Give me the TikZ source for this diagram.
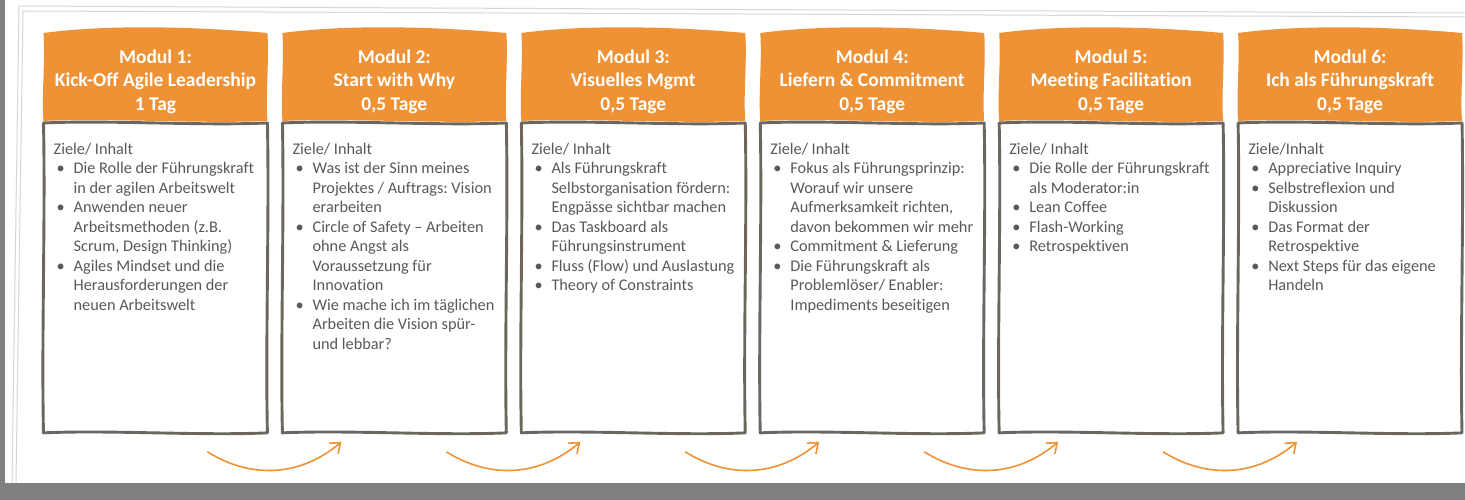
\documentclass[tikz,border=0pt]{standalone}
\usepackage{fontspec}
\setmainfont{Carlito}[Ligatures={NoCommon}]
\frenchspacing
\usetikzlibrary{positioning,calc,arrows.meta}

\definecolor{modorange}{HTML}{EF9235}
\definecolor{rahmengrau}{HTML}{6C6661}
\definecolor{textgrau}{HTML}{595959}
\definecolor{randgrau}{HTML}{808080}
\definecolor{blattgrau}{HTML}{DAD7D2}

\pgfdeclarelayer{background}
\pgfdeclarelayer{blatt}
\pgfsetlayers{blatt,background,main}

\newcommand{\bul}{\makebox[20pt][l]{\hspace{3pt}\textbullet}}
\newcommand{\ein}{\hspace*{20pt}}
% handgezeichneter Rahmen um einen Knoten: #1 Stil, #2 Knoten, #3/#4 Welle oben
\newcommand{\wellen}[4]{%
  \begin{pgfonlayer}{background}
  \path[#1] (#2.north west)
    .. controls ($(#2.north west)!.3!(#2.north east)+(0,#3)$) and ($(#2.north west)!.7!(#2.north east)+(0,#4)$) .. (#2.north east)
    .. controls ($(#2.north east)!.3!(#2.south east)+(2,0)$) and ($(#2.north east)!.7!(#2.south east)+(-2,0)$) .. (#2.south east)
    .. controls ($(#2.south east)!.3!(#2.south west)+(0,3)$) and ($(#2.south east)!.7!(#2.south west)+(0,-3)$) .. (#2.south west)
    .. controls ($(#2.south west)!.3!(#2.north west)+(-2,0)$) and ($(#2.south west)!.7!(#2.north west)+(2,0)$) .. (#2.north west) -- cycle;
  \end{pgfonlayer}}

\tikzset{
  kopf/.style={minimum width=224pt, minimum height=88pt, inner sep=0pt, outer sep=0pt},
  kopffarbe/.style={fill=modorange},
  titel/.style={text=white, font=\fontsize{19.5}{23.5}\selectfont\bfseries, align=center, inner sep=0pt},
  inhalt/.style={minimum width=224pt, minimum height=310pt, inner sep=0pt, outer sep=0pt},
  inhaltrand/.style={draw=rahmengrau, line width=2.9pt, fill=white, line join=round},
  ziel/.style={text=textgrau, font=\fontsize{16.3}{19.5}\selectfont, align=left, inner sep=0pt},
  pfeil/.style={draw=modorange, line width=1.6pt, -{Straight Barb[length=9pt, width=14pt]}},
}

\begin{document}
\begin{tikzpicture}[x=1pt, y=-1pt]
% Hintergrund und Blatt
\begin{pgfonlayer}{blatt}
\fill[white] (0,0) rectangle (1465,500);
\fill[randgrau] (0,0) rectangle (5,500);
\fill[randgrau] (0,483) rectangle (1465,500);
\draw[blattgrau, line width=1pt] (1465,13) -- (19,6) -- (12,483);
\draw[blattgrau, line width=1pt] (1465,17) -- (23,11) -- (16,483);
\end{pgfonlayer}
\useasboundingbox (0,0) rectangle (1465,500);

% Modulkoepfe
\node[kopf] (kopf1) at (155.5,77) {};
\node[kopf, right=15pt of kopf1] (kopf2) {};
\node[kopf, right=15pt of kopf2] (kopf3) {};
\node[kopf, right=15pt of kopf3] (kopf4) {};
\node[kopf, right=15pt of kopf4] (kopf5) {};
\node[kopf, right=15pt of kopf5] (kopf6) {};
\node[titel] (titel1) at ([yshift=-4.5pt]kopf1.center) {Modul 1:\\Kick-Off Agile Leadership\\1 Tag};
\node[titel] (titel2) at ([yshift=-4.5pt]kopf2.center) {Modul 2:\\Start with Why\\0,5 Tage};
\node[titel] (titel3) at ([yshift=-4.5pt]kopf3.center) {Modul 3:\\Visuelles Mgmt\\0,5 Tage};
\node[titel] (titel4) at ([yshift=-4.5pt]kopf4.center) {Modul 4:\\Liefern \& Commitment\\0,5 Tage};
\node[titel] (titel5) at ([yshift=-4.5pt]kopf5.center) {Modul 5:\\Meeting Facilitation\\0,5 Tage};
\node[titel] (titel6) at ([yshift=-4.5pt]kopf6.center) {Modul 6:\\Ich als Führungskraft\\0,5 Tage};

% Inhaltskaesten
\node[inhalt, below=2pt of kopf1] (box1) {};
\node[inhalt, below=2pt of kopf2] (box2) {};
\node[inhalt, below=2pt of kopf3] (box3) {};
\node[inhalt, below=2pt of kopf4] (box4) {};
\node[inhalt, below=2pt of kopf5] (box5) {};
\node[inhalt, below=2pt of kopf6] (box6) {};

\wellen{kopffarbe}{kopf1}{-9}{-6}
\wellen{kopffarbe}{kopf2}{-9}{-6}
\wellen{kopffarbe}{kopf3}{-9}{-6}
\wellen{kopffarbe}{kopf4}{-9}{-6}
\wellen{kopffarbe}{kopf5}{-9}{-6}
\wellen{kopffarbe}{kopf6}{-9}{-6}
\wellen{inhaltrand}{box1}{-3}{3}
\wellen{inhaltrand}{box2}{-3}{3}
\wellen{inhaltrand}{box3}{-3}{3}
\wellen{inhaltrand}{box4}{-3}{3}
\wellen{inhaltrand}{box5}{-3}{3}
\wellen{inhaltrand}{box6}{-3}{3}

% Ziele / Inhalte
\node[ziel, below right=20pt and 10pt of box1.north west] (text1) {Ziele/ Inhalt\\
  \bul Die Rolle der Führungskraft\\ \ein in der agilen Arbeitswelt\\
  \bul Anwenden neuer\\ \ein Arbeitsmethoden (z.B.\\ \ein Scrum, Design Thinking)\\
  \bul Agiles Mindset und die\\ \ein Herausforderungen der\\ \ein neuen Arbeitswelt};
\node[ziel, below right=20pt and 10pt of box2.north west] (text2) {Ziele/ Inhalt\\
  \bul Was ist der Sinn meines\\ \ein Projektes / Auftrags: Vision\\ \ein erarbeiten\\
  \bul Circle of Safety -- Arbeiten\\ \ein ohne Angst als\\ \ein Voraussetzung für\\ \ein Innovation\\
  \bul Wie mache ich im täglichen\\ \ein Arbeiten die Vision spür-\\ \ein und lebbar?};
\node[ziel, below right=20pt and 10pt of box3.north west] (text3) {Ziele/ Inhalt\\
  \bul Als Führungskraft\\ \ein Selbstorganisation fördern:\\ \ein Engpässe sichtbar machen\\
  \bul Das Taskboard als\\ \ein Führungsinstrument\\
  \bul Fluss (Flow) und Auslastung\\
  \bul Theory of Constraints};
\node[ziel, below right=20pt and 10pt of box4.north west] (text4) {Ziele/ Inhalt\\
  \bul Fokus als Führungsprinzip:\\ \ein Worauf wir unsere\\ \ein Aufmerksamkeit richten,\\ \ein davon bekommen wir mehr\\
  \bul Commitment \& Lieferung\\
  \bul Die Führungskraft als\\ \ein Problemlöser/ Enabler:\\ \ein Impediments beseitigen};
\node[ziel, below right=20pt and 10pt of box5.north west] (text5) {Ziele/ Inhalt\\
  \bul Die Rolle der Führungskraft\\ \ein als Moderator:in\\
  \bul Lean Coffee\\
  \bul Flash-Working\\
  \bul Retrospektiven};
\node[ziel, below right=20pt and 10pt of box6.north west] (text6) {Ziele/Inhalt\\
  \bul Appreciative Inquiry\\
  \bul Selbstreflexion und\\ \ein Diskussion\\
  \bul Das Format der\\ \ein Retrospektive\\
  \bul Next Steps für das eigene\\ \ein Handeln};

% Pfeile zwischen den Modulen
\coordinate[below left=19pt and 60pt of box1.south east] (p1a);
\coordinate[below right=9pt and 59pt of box2.south west] (p1b);
\coordinate[below left=19pt and 60pt of box2.south east] (p2a);
\coordinate[below right=9pt and 59pt of box3.south west] (p2b);
\coordinate[below left=19pt and 60pt of box3.south east] (p3a);
\coordinate[below right=9pt and 59pt of box4.south west] (p3b);
\coordinate[below left=19pt and 60pt of box4.south east] (p4a);
\coordinate[below right=9pt and 59pt of box5.south west] (p4b);
\coordinate[below left=19pt and 60pt of box5.south east] (p5a);
\coordinate[below right=9pt and 59pt of box6.south west] (p5b);
\draw[pfeil] (p1a) .. controls +(45,28) and +(-40,34) .. (p1b);
\draw[pfeil] (p2a) .. controls +(45,28) and +(-40,34) .. (p2b);
\draw[pfeil] (p3a) .. controls +(45,28) and +(-40,34) .. (p3b);
\draw[pfeil] (p4a) .. controls +(45,28) and +(-40,34) .. (p4b);
\draw[pfeil] (p5a) .. controls +(45,28) and +(-40,34) .. (p5b);

\end{tikzpicture}
\end{document}
